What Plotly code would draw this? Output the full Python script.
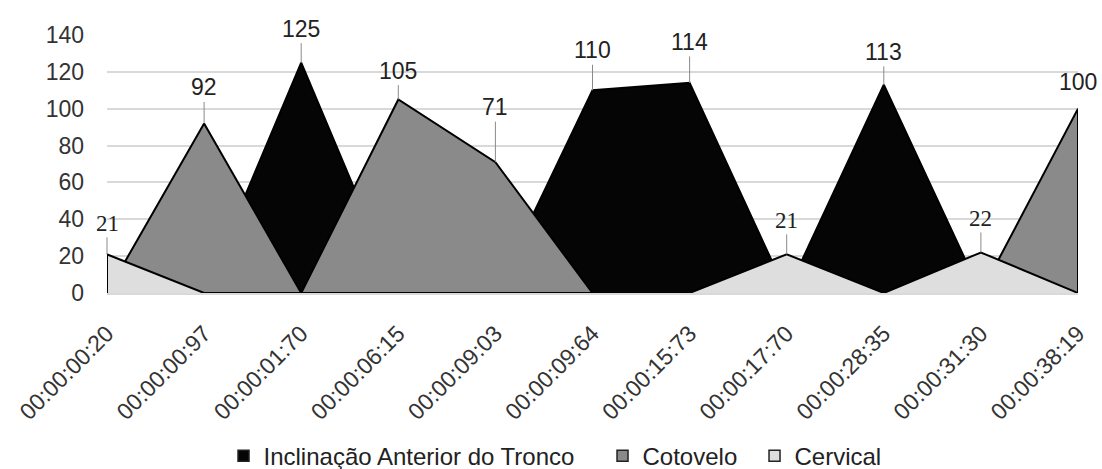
import plotly.graph_objects as go

# Time stamps (category axis)
tempos = ["00:00:00:20", "00:00:00:97", "00:00:01:70", "00:00:06:15",
          "00:00:09:03", "00:00:09:64", "00:00:15:73", "00:00:17:70",
          "00:00:28:35", "00:00:31:30", "00:00:38:19"]

# Angle values per segment
tronco = [0, 0, 125, 0, 0, 110, 114, 0, 113, 0, 0]
cotovelo = [0, 92, 0, 105, 71, 0, 0, 0, 0, 0, 100]
cervical = [21, 0, 0, 0, 0, 0, 0, 21, 0, 22, 0]

series = [
    ("Inclinação Anterior do Tronco", tronco, "#050505"),
    ("Cotovelo", cotovelo, "#8a8a8a"),
    ("Cervical", cervical, "#dedede"),
]

# Legend entry widths (px) so the entries spread out evenly
legend_widths = [334, 107, 90]

# Which value of which series gets a callout: (series index, category index, offset px, leader line)
callouts = [
    (2, 0, 31, True), (1, 1, 36, True), (0, 2, 34, True), (1, 3, 29, True),
    (1, 4, 55, True), (0, 5, 40, True), (0, 6, 41, True), (2, 7, 34, True),
    (0, 8, 33, True), (2, 9, 34, True), (1, 10, 27, False),
]

SANS = "Liberation Sans, Arial, sans-serif"
SERIF = "Liberation Serif, Times New Roman, serif"

fig = go.Figure()

# Overlapping (non-stacked) area polygons, closed down to the baseline
for name, vals, color in series:
    fig.add_trace(go.Scatter(
        x=[tempos[0]] + tempos + [tempos[-1]],
        y=[0] + vals + [0],
        mode="lines",
        fill="toself",
        fillcolor=color,
        line=dict(color="#000000", width=2),
        showlegend=False,
        hoverinfo="skip",
    ))

# Legend entries as square swatches
for (name, vals, color), lw in zip(series, legend_widths):
    fig.add_trace(go.Scatter(
        x=[None], y=[None], mode="markers", name=name, legendwidth=lw,
        marker=dict(symbol="square", size=11, color=color,
                    line=dict(color="#222222", width=1.5)),
    ))

for si, ci, off, leader in callouts:
    name, vals, color = series[si]
    fig.add_annotation(
        x=tempos[ci], y=vals[ci], text=str(vals[ci]),
        showarrow=leader, arrowhead=0, arrowwidth=1, arrowcolor="#8a8a8a",
        ax=0, ay=-off, yshift=0 if leader else off,
        font=dict(family=SERIF if si == 2 else SANS, size=23, color="#222222"),
    )

fig.update_layout(
    width=1102, height=469,
    margin=dict(l=107, r=24, t=35, b=176, autoexpand=False),
    paper_bgcolor="white", plot_bgcolor="white",
    font=dict(family=SANS, size=23, color="#333333"),
    showlegend=True,
    legend=dict(orientation="h", x=0.12, xanchor="left", y=-0.632, yanchor="middle",
                font=dict(size=24, color="#222222"), itemclick=False),
    xaxis=dict(type="category", range=[0, len(tempos) - 1], tickangle=-45,
               showgrid=False, showline=True, linecolor="#d9d9d9", linewidth=2,
               ticks="", ticklabelstandoff=16, automargin=False,
               tickfont=dict(size=23, color="#333333"), zeroline=False),
    yaxis=dict(range=[0, 140], dtick=20, showgrid=True, gridcolor="#d9d9d9",
               gridwidth=1.5, zeroline=False, showline=False, ticks="",
               automargin=False,
               ticklabelstandoff=22, tickfont=dict(size=23, color="#333333")),
)

fig.write_html("out.html")
